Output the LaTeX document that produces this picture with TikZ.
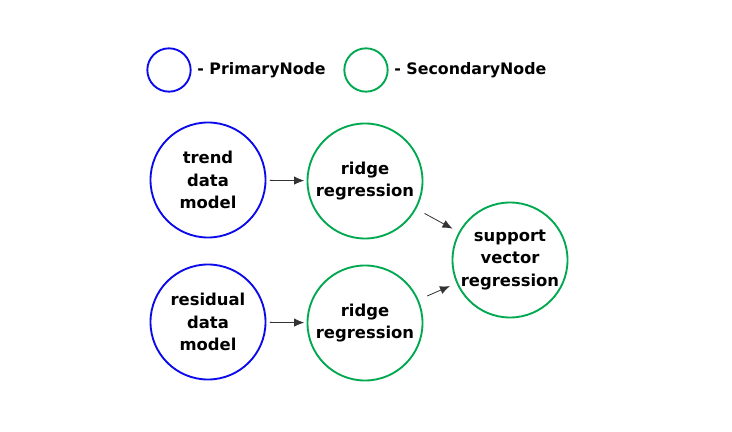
\documentclass[tikz,border=0pt]{standalone}
\usepackage{fontspec}
\setmainfont{DejaVu Sans}
\usetikzlibrary{arrows.meta,positioning}
\definecolor{PrimaryBlue}{RGB}{10,10,235}
\definecolor{SecondaryGreen}{RGB}{0,168,80}
\definecolor{ArrowGray}{RGB}{51,51,51}
\tikzset{
  primarynode/.style={draw=PrimaryBlue,circle,line width=1.6pt,inner sep=0pt,
    minimum size=3.45cm,align=center,font=\fontsize{14}{19}\selectfont\bfseries},
  secondarynode/.style={draw=SecondaryGreen,circle,line width=1.6pt,inner sep=0pt,
    minimum size=3.45cm,align=center,font=\fontsize{14}{19}\selectfont\bfseries},
  legendnode/.style={circle,line width=1.6pt,minimum size=1.3cm},
  legendtext/.style={anchor=west,font=\fontsize{13.5}{16}\selectfont\bfseries},
  flowarrow/.style={-{Latex[length=3mm,width=2.5mm]},
    line width=0.7pt,draw=ArrowGray},
}
\begin{document}
\begin{tikzpicture}[x=0.03cm,y=-0.03cm]
  \useasboundingbox (0,0) rectangle (732,432);
  % legend
  \node[legendnode,draw=PrimaryBlue] (lp) at (169,70) {};
  \node[legendtext,right=0.05cm of lp] (lpt) {- PrimaryNode};
  \node[legendnode,draw=SecondaryGreen] (ls) at (366,70) {};
  \node[legendtext,right=0.05cm of ls] (lst) {- SecondaryNode};
  % models
  \node[primarynode] (trend) at (208,180) {trend\\data\\model};
  \node[primarynode] (resid) at (208,322) {residual\\data\\model};
  \node[secondarynode] (ridgea) at (365,181) {ridge\\regression};
  \node[secondarynode] (ridgeb) at (365,323) {ridge\\regression};
  \node[secondarynode] (svr) at (510,260) {support\\vector\\regression};
  % connectors
  \draw[flowarrow,shorten <=3pt,shorten >=2pt] (trend) -- (ridgea);
  \draw[flowarrow,shorten <=3pt,shorten >=2pt] (resid) -- (ridgeb);
  \draw[flowarrow,shorten <=8pt,shorten >=6pt] (ridgea) -- (svr);
  \draw[flowarrow,shorten <=8pt,shorten >=6pt] (ridgeb) -- (svr);
\end{tikzpicture}
\end{document}
